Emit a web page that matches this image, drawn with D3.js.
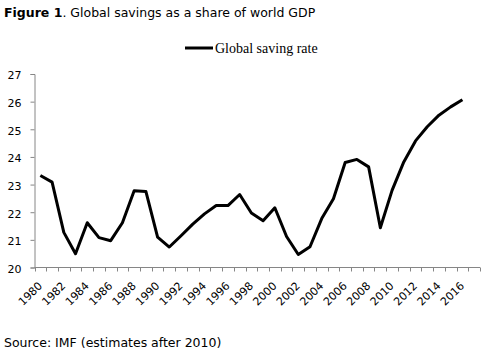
<!DOCTYPE html>
<html><head><meta charset="utf-8">
<script src="https://cdn.jsdelivr.net/npm/d3@7"></script>
<style>body{margin:0;background:#fff}svg{display:block}</style>
</head><body>
<script>
const years = d3.range(1980, 2018).map(String);
const savingRate = [23.33,23.09,21.27,20.5,21.62,21.08,20.97,21.62,22.78,22.75,21.1,20.74,21.15,21.57,21.94,22.24,22.24,22.64,21.97,21.69,22.16,21.12,20.47,20.75,21.77,22.49,23.8,23.91,23.64,21.44,22.79,23.82,24.58,25.09,25.51,25.81,26.07];
const yTicks = [20,21,22,23,24,25,26,27];
const xLabels = years.filter((d,i)=>i%2===0 && +d<=2016);

const W=493,H=357;
const svg=d3.select("body").append("svg").attr("width",W).attr("height",H);
const x=d3.scaleBand().domain(years).range([34.5,480]);
const y=d3.scaleLinear().domain([20,27]).range([267.5,74]);
const axisColor="#868686";

svg.append("text").attr("x",4).attr("y",17).attr("font-family","DejaVu Sans, Verdana").attr("font-size",12.5).attr("fill","#000")
  .call(t=>{t.append("tspan").attr("font-weight","bold").text("Figure 1");t.append("tspan").text(". Global savings as a share of world GDP");});

// legend
svg.append("line").attr("x1",185).attr("x2",213).attr("y1",48).attr("y2",48).attr("stroke","#000").attr("stroke-width",3);
svg.append("text").attr("x",215).attr("y",52.5).attr("font-family","Liberation Serif, serif").attr("font-size",14).text("Global saving rate");

// y axis
const ya=svg.append("g").attr("transform","translate(34.5,0)").call(d3.axisLeft(y).tickValues(yTicks).tickSize(4).tickPadding(9).tickFormat(d3.format("d")));
ya.select(".domain").attr("stroke",axisColor);
ya.selectAll(".tick line").attr("stroke",axisColor);
ya.selectAll("text").attr("font-family","DejaVu Sans, Verdana").attr("font-size",11).attr("fill","#000").attr("dy","0.45em");

// x axis
const xa=svg.append("g").attr("transform","translate(0,267.5)");
xa.append("line").attr("x1",34.5).attr("x2",480).attr("stroke",axisColor);
xa.selectAll("line.tk").data(years.concat(["end"])).join("line").attr("class","tk")
  .attr("x1",(d,i)=>Math.round(i<years.length?x(d):x.range()[1])+0.5).attr("x2",(d,i)=>Math.round(i<years.length?x(d):x.range()[1])+0.5)
  .attr("y1",0).attr("y2",4).attr("stroke",axisColor);
xa.selectAll("text").data(xLabels).join("text")
  .attr("transform",d=>`translate(${x(d)+x.bandwidth()/2+2.5},19) rotate(-45)`)
  .attr("text-anchor","end")
  .attr("font-family","DejaVu Sans, Verdana").attr("font-size",11).attr("fill","#000").text(d=>d);

// line
const line=d3.line().x((d,i)=>x(years[i])+x.bandwidth()/2).y(d=>y(d));
svg.append("path").datum(savingRate).attr("d",line).attr("fill","none").attr("stroke","#000").attr("stroke-width",3).attr("stroke-linejoin","round");

svg.append("text").attr("x",4).attr("y",347).attr("font-family","DejaVu Sans, Verdana").attr("font-size",12.5).text("Source: IMF (estimates after 2010)");
</script>
</body></html>
